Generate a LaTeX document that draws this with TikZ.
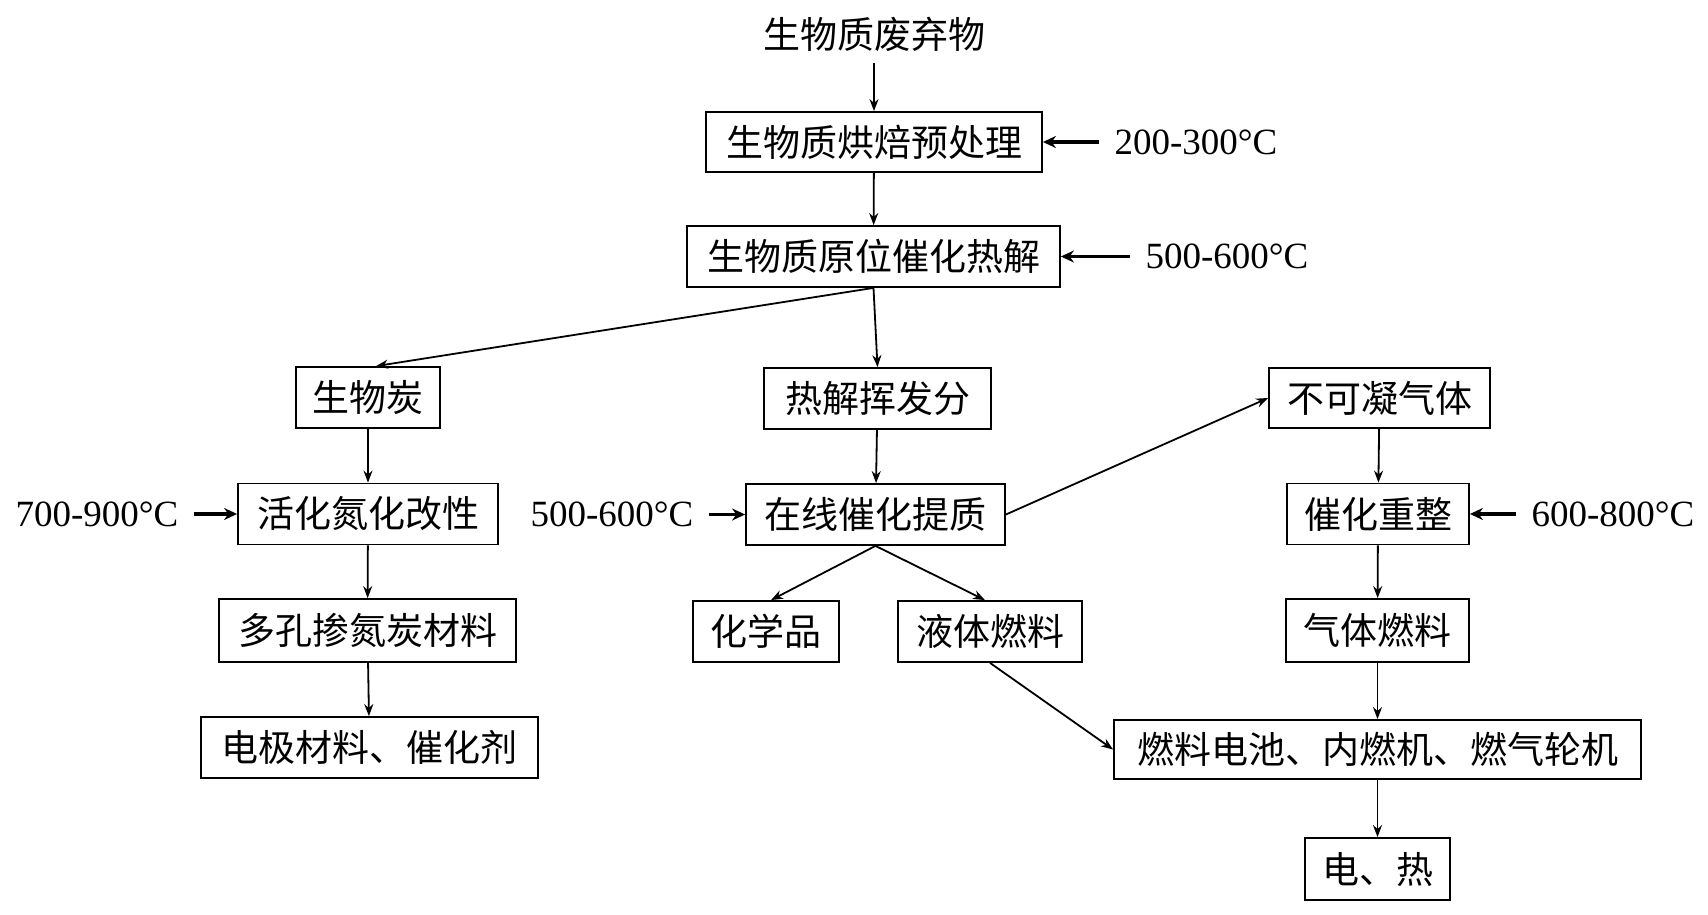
\documentclass[tikz,border=0pt]{standalone}
\usepackage{fontspec}
\setmainfont{Liberation Serif}
\newfontfamily\cjk{Noto Sans CJK SC}
\usetikzlibrary{arrows.meta}
\tikzset{
  box/.style={draw, line width=1.8pt, inner sep=0pt, font=\cjk\fontsize{37}{40}\selectfont},
  plain/.style={inner sep=0pt, font=\cjk\fontsize{37}{40}\selectfont},
  temp/.style={inner xsep=15pt, inner ysep=0pt, font=\fontsize{37}{40}\selectfont},
  flow/.style={draw, line width=1.8pt, -{Stealth[length=12pt,width=9pt]}},
  heat/.style={draw, line width=3.5pt, -{Stealth[length=13pt,width=12pt]}}
}
\begin{document}
\begin{tikzpicture}[x=1pt,y=-1pt]
\useasboundingbox (0,0) rectangle (1708,915);
% nodes
\node[plain] (title) at (874,34) {生物质废弃物};
\node[box, minimum width=336pt, minimum height=60pt] (b1) at (874,142) {生物质烘焙预处理};
\node[box, minimum width=373pt, minimum height=61pt] (b2) at (873.5,256.5) {生物质原位催化热解};
\node[box, minimum width=144pt, minimum height=61pt] (char) at (368,397.5) {生物炭};
\node[box, minimum width=227pt, minimum height=61pt] (vol) at (877.5,398.5) {热解挥发分};
\node[box, minimum width=221pt, minimum height=60pt] (gas) at (1379.5,398) {不可凝气体};
\node[box, minimum width=260pt, minimum height=61pt] (act) at (368,514) {活化氮化改性};
\node[box, minimum width=259pt, minimum height=61pt] (upg) at (875.5,514.5) {在线催化提质};
\node[box, minimum width=182pt, minimum height=61pt] (ref) at (1378,514) {催化重整};
\node[box, minimum width=297pt, minimum height=63pt] (por) at (367.5,630.5) {多孔掺氮炭材料};
\node[box, minimum width=146pt, minimum height=61pt] (chem) at (766,631.5) {化学品};
\node[box, minimum width=184pt, minimum height=61pt] (liq) at (990,631.5) {液体燃料};
\node[box, minimum width=183pt, minimum height=63pt] (gfuel) at (1377.5,630.5) {气体燃料};
\node[box, minimum width=337pt, minimum height=61pt] (elec) at (369.5,747.5) {电极材料、催化剂};
\node[box, minimum width=527pt, minimum height=59pt] (fc) at (1377.5,749.5) {燃料电池、内燃机、燃气轮机};
\node[box, minimum width=145pt, minimum height=62pt] (elh) at (1377.5,869) {电、热};
% temperature labels
\node[temp] (t1) at (1196,142) {200-300°C};
\node[temp] (t2) at (1227,256.5) {500-600°C};
\node[temp] (t3) at (97,514) {700-900°C};
\node[temp] (t4) at (612,514.5) {500-600°C};
\node[temp] (t5) at (1613,514) {600-800°C};
% connectors
\draw[flow, shorten <=12pt] (title) -- (b1);
\draw[flow] (b1) -- (b2);
\draw[flow] (b2.south) -- ([xshift=8pt]char.north);
\draw[flow] (b2.south) -- (vol.north);
\draw[flow] (vol) -- (upg);
\draw[flow] (upg.east) -- (gas.west);
\draw[flow] (upg.south) -- ([xshift=5pt]chem.north);
\draw[flow] (upg.south) -- ([xshift=-5pt]liq.north);
\draw[flow] (liq.south) -- (fc.west);
\draw[flow] (gas) -- (ref);
\draw[flow] (ref) -- (gfuel);
\draw[flow] (gfuel) -- (fc);
\draw[flow] (fc) -- (elh);
\draw[flow] (char) -- (act);
\draw[flow] (act) -- (por);
\draw[flow] (por) -- (elec);
\draw[heat] (t1.west) -- (b1.east);
\draw[heat] (t2.west) -- (b2.east);
\draw[heat] (t3.east) -- (act.west);
\draw[heat] (t4.east) -- (upg.west);
\draw[heat] (t5.west) -- (ref.east);
\end{tikzpicture}
\end{document}
